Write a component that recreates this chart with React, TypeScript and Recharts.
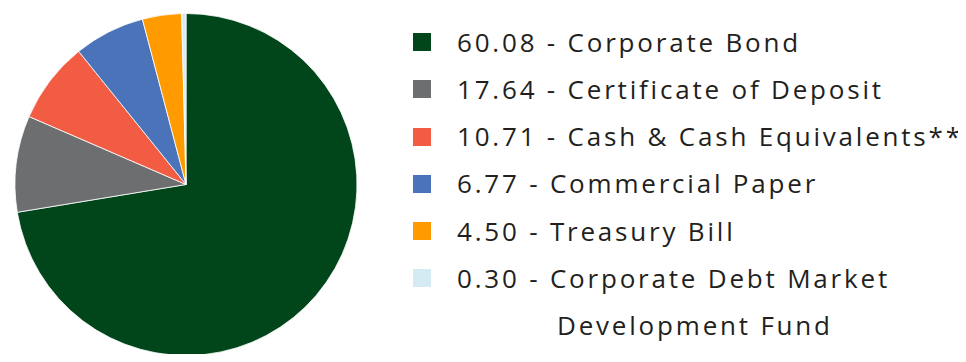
import { PieChart, Pie, Cell, Legend } from 'recharts';

// categorias e valores mostrados na legenda
const categories = [
  'Corporate Bond',
  'Certificate of Deposit',
  'Cash & Cash Equivalents**',
  'Commercial Paper',
  'Treasury Bill',
  'Corporate Debt Market Development Fund',
];
const legendValues = ['60.08', '17.64', '10.71', '6.77', '4.50', '0.30'];

// fatias como aparecem desenhadas no gráfico (%)
const sliceShares = [72.4, 9.1, 7.7, 6.7, 3.7, 0.4];

const COLORS = ['#00461a', '#6d6e70', '#f15c43', '#4b73b9', '#ff9a00', '#d5ebf4'];

const chartData = categories.map((name, i) => ({
  name,
  value: sliceShares[i],
  label: legendValues[i],
}));

const FONT = '"Open Sans", sans-serif';

const renderLegend = () => (
  <div style={{ fontFamily: FONT, color: '#231f20' }}>
    {chartData.map((item, index) => {
      const lines =
        index === 5
          ? [`${item.label} - Corporate Debt Market`, 'Development Fund']
          : [`${item.label} - ${item.name}`];
      return (
        <div key={`leg-${index}`} style={{ position: 'relative' }}>
          {lines.map((line, li) => (
            <div
              key={li}
              style={{
                height: 47.3,
                lineHeight: '47.3px',
                fontSize: 26,
                paddingLeft: li === 0 ? 44 : 144,
                whiteSpace: 'nowrap',
                letterSpacing: 2.8,
              }}
            >
              {li === 0 && (
                <span
                  style={{
                    position: 'absolute',
                    left: 0,
                    top: 14.5,
                    width: 18,
                    height: 18,
                    background: COLORS[index],
                  }}
                />
              )}
              {line}
            </div>
          ))}
        </div>
      );
    })}
  </div>
);

const App = () => {
  return (
    <div style={{ margin: -8, width: 966, height: 362, background: '#fff' }}>
      <PieChart width={966} height={362} margin={{ top: 0, right: 0, bottom: 0, left: 0 }}>
        <Pie
          data={chartData}
          dataKey="value"
          cx={186}
          cy={184.5}
          outerRadius={171}
          startAngle={90}
          endAngle={-270}
          stroke="#fff"
          strokeWidth={0.8}
          isAnimationActive={false}
        >
          {chartData.map((_, index) => (
            <Cell key={`cell-${index}`} fill={COLORS[index]} />
          ))}
        </Pie>
        <Legend
          layout="vertical"
          align="right"
          verticalAlign="top"
          content={renderLegend}
          wrapperStyle={{ left: 413, right: 'auto', top: 18.5, width: 553 }}
        />
      </PieChart>
    </div>
  );
};

export default App;
